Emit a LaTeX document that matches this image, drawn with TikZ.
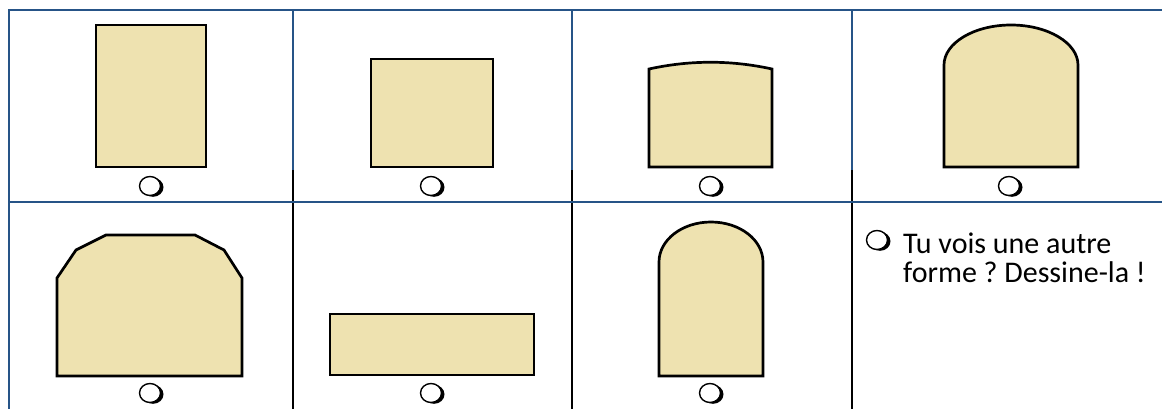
\documentclass[tikz,border=0pt]{standalone}
\usepackage{fontspec}
\setmainfont{Carlito}
\usetikzlibrary{shapes.geometric,shadows}
\definecolor{gridblue}{RGB}{38,84,135}
\definecolor{dough}{RGB}{238,226,176}
\tikzset{
  shapefill/.style={fill=dough, draw=black, line width=2.7pt, line join=miter},
  bluerule/.style={draw=gridblue, line width=2pt},
  blackrule/.style={draw=black, line width=2pt},
  radio/.style={ellipse, draw=black, fill=white, line width=1.4pt,
    minimum width=21pt, minimum height=19pt, inner sep=0pt,
    drop shadow={shadow xshift=3pt, shadow yshift=-1.3pt, opacity=1, fill=black}},
  label30/.style={font=\fontsize{30}{36}\selectfont, anchor=base west, inner sep=0pt}
}
\begin{document}
\frenchspacing
\begin{tikzpicture}[x=1pt,y=-1pt]
\useasboundingbox (0,0) rectangle (1162,409);
\fill[white] (0,0) rectangle (1162,409);
% black lower parts of column rules
\foreach \cx in {293,572,852} {
  \draw[blackrule] (\cx,170) -- (\cx,409);
  \draw[bluerule,line width=1.6pt] (\cx,10) -- (\cx,170);
}
% blue frame rules
\draw[bluerule] (9,409) -- (9,10) -- (1162,10);
\draw[bluerule] (9,202) -- (1162,202);

% row 1 shapes
\draw[shapefill] (96,25) rectangle (206,167);
\draw[shapefill] (371,59) rectangle (493,167);
\draw[shapefill] (649,167) -- (649,69) .. controls (690,60) and (731,60) .. (772,69) -- (772,167) -- cycle;
\draw[shapefill] (944,167) -- (944,65) .. controls (944,43) and (974,25) .. (1011,25)
  .. controls (1048,25) and (1078,43) .. (1078,65) -- (1078,167) -- cycle;

% row 2 shapes
\draw[shapefill] (57,376) -- (57,278) -- (76,250) -- (106,235) -- (195,235) -- (224,250) -- (242,278) -- (242,376) -- cycle;
\draw[shapefill] (330,314) rectangle (534,375);
\draw[shapefill] (659,376) -- (659,262) .. controls (659,240) and (682,222) .. (711,222)
  .. controls (740,222) and (763,240) .. (763,262) -- (763,376) -- cycle;

% answer circles
\node[radio] (r1) at (150,186) {};
\node[radio] (r2) at (431,186) {};
\node[radio] (r3) at (710,186) {};
\node[radio] (r4) at (1009,186) {};
\node[radio] (r5) at (150,393) {};
\node[radio] (r6) at (431,393) {};
\node[radio] (r7) at (710,393) {};
\node[radio] (r8) at (877,240) {};

\node[label30] (t1) at (903,253) {Tu vois une autre};
\node[label30] (t2) at (903,282) {forme ? Dessine-la !};
\end{tikzpicture}
\end{document}
